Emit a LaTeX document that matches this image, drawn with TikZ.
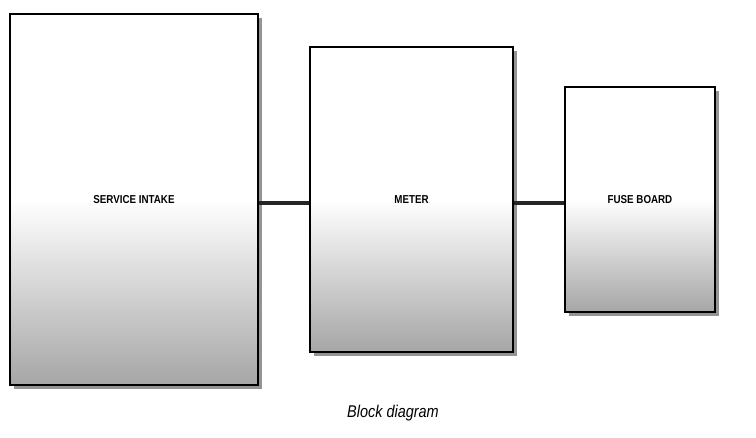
\documentclass[tikz,border=0pt]{standalone}
\usepackage{fontspec}
\setmainfont{Liberation Sans}
\usetikzlibrary{shadows}
\begin{document}
\begin{tikzpicture}[x=1pt,y=-1pt,
  blk/.style={draw=black,line width=2.8pt,top color=white,bottom color=gray!70,middle color=white,
    drop shadow={shadow xshift=4pt,shadow yshift=-4pt,opacity=0.6,fill=black!70},
    font=\bfseries\addfontfeatures{FakeStretch=0.85}\fontsize{11.5}{13}\selectfont},
  conn/.style={line width=4pt,black!85}]
\useasboundingbox (0,0) rectangle (756,438);
\node[blk,minimum width=248pt,minimum height=371pt] (si) at (134,199.5) {SERVICE INTAKE};
\node[blk,minimum width=203pt,minimum height=305pt] (me) at (411.5,199.5) {METER};
\node[blk,minimum width=150pt,minimum height=225pt] (fb) at (640,199.5) {FUSE BOARD};
\draw[conn] (si.east |- 0,203) -- (me.west |- 0,203);
\draw[conn] (me.east |- 0,203) -- (fb.west |- 0,203);
\node (cap) at (393,413) {\itshape\addfontfeatures{FakeStretch=0.85}\fontsize{17}{19}\selectfont Block diagram};
\end{tikzpicture}
\end{document}
